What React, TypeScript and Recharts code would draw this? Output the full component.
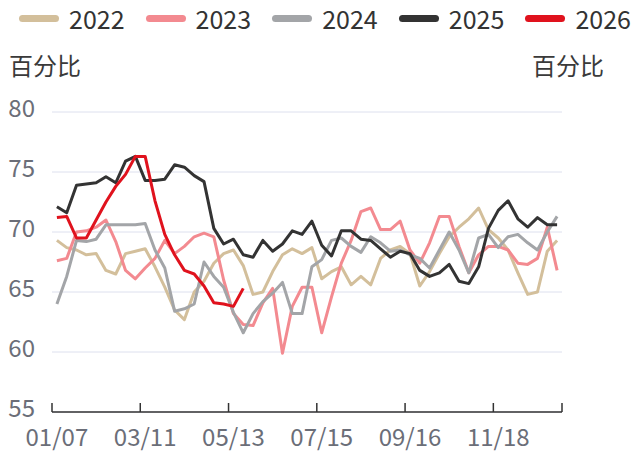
import { CartesianGrid, Legend, Line, LineChart, XAxis, YAxis } from 'recharts';

const DATES = [
  '01/07', '01/14', '01/21', '01/28', '02/04', '02/11', '02/18', '02/25',
  '03/04', '03/11', '03/18', '03/25', '04/01', '04/08', '04/15', '04/22', '04/29',
  '05/06', '05/13', '05/20', '05/27', '06/03', '06/10', '06/17', '06/24',
  '07/01', '07/08', '07/15', '07/22', '07/29', '08/05', '08/12', '08/19', '08/26',
  '09/02', '09/09', '09/16', '09/23', '09/30', '10/07', '10/14', '10/21', '10/28',
  '11/04', '11/11', '11/18', '11/25', '12/02', '12/09', '12/16', '12/23', '12/30',
];

const S2022 = [
  69.3, 68.7, 68.5, 68.1, 68.2, 66.8, 66.5, 68.2, 68.4, 68.6, 67.1, 65.4, 63.5, 62.7, 65.0, 65.9, 67.4,
  68.2, 68.5, 67.2, 64.8, 65.0, 66.7, 68.1, 68.6, 68.2, 68.7, 66.1, 66.7, 67.1, 65.6, 66.3, 65.6, 67.8,
  68.5, 68.8, 68.2, 65.5, 66.7, 68.2, 69.6, 70.4, 71.1, 72.0, 70.2, 69.5, 68.5, 66.6, 64.8, 65.0, 68.4, 69.3,
];
const S2023 = [
  67.6, 67.8, 70.0, 70.1, 70.4, 71.0, 69.2, 66.8, 66.1, 67.0, 67.8, 69.3, 68.2, 68.8, 69.6, 69.9, 69.6,
  66.0, 63.2, 62.3, 62.2, 64.1, 65.3, 59.9, 63.8, 65.4, 65.4, 61.6, 64.6, 67.4, 69.3, 71.7, 72.0, 70.2,
  70.2, 70.9, 68.5, 67.4, 69.1, 71.3, 71.3, 68.8, 66.6, 68.1, 68.8, 68.8, 68.5, 67.4, 67.3, 67.8, 70.4, 66.8,
];
const S2024 = [
  64.0, 66.3, 69.3, 69.2, 69.4, 70.6, 70.6, 70.6, 70.6, 70.7, 68.5, 67.0, 63.4, 63.6, 64.0, 67.5, 66.3,
  65.4, 63.3, 61.6, 63.2, 64.2, 64.9, 65.8, 63.2, 63.2, 67.1, 67.7, 69.3, 69.5, 68.8, 68.3, 69.6, 69.1,
  68.4, 68.5, 68.1, 67.8, 67.0, 68.5, 70.0, 68.5, 66.6, 69.5, 69.8, 68.7, 69.6, 69.8, 69.1, 68.5, 70.0, 71.3,
];
const S2025 = [
  72.1, 71.6, 73.9, 74.0, 74.1, 74.6, 74.1, 75.9, 76.3, 74.3, 74.3, 74.4, 75.6, 75.4, 74.7, 74.2, 70.3,
  69.0, 69.4, 68.1, 67.9, 69.3, 68.4, 69.0, 70.1, 69.8, 70.9, 68.9, 68.0, 70.1, 70.1, 69.4, 69.3, 68.6,
  67.9, 68.4, 68.2, 66.8, 66.3, 66.6, 67.3, 65.9, 65.7, 67.1, 70.3, 71.8, 72.6, 71.1, 70.4, 71.2, 70.6, 70.6,
];
const S2026 = [
  71.2, 71.3, 69.5, 69.5, 71.0, 72.5, 73.8, 74.8, 76.3, 76.3, 72.6, 69.8, 68.1, 66.8, 66.5, 65.5, 64.1,
  64.0, 63.8, 65.3,
];

const Y_TICKS = [55, 60, 65, 70, 75, 80];

const SERIES = [
  { key: '2022', color: '#d3bf9b', values: S2022 },
  { key: '2023', color: '#f38a90', values: S2023 },
  { key: '2024', color: '#a3a5a8', values: S2024 },
  { key: '2025', color: '#333333', values: S2025 },
  { key: '2026', color: '#e0121d', values: S2026 },
];

const W = 633;
const H = 453;
const LEFT_W = 52;
const RIGHT_W = 71;
const PLOT_W = W - LEFT_W - RIGHT_W;
const FONT = '"Noto Sans CJK SC", "Noto Sans", sans-serif';
const AXIS_LINE = '#333333';
const LABEL = '#6b6e78';
const GRID = '#dde0ee';

const rows = DATES.map((date, i) => {
  const row: Record<string, string | number | undefined> = { idx: i, date };
  SERIES.forEach((s) => {
    row[s.key] = s.values[i];
  });
  return row;
});
const ALL_IDX = DATES.map((_, i) => i);

function XTick({ x, y, payload }: any) {
  const i = payload.value as number;
  const half = PLOT_W / DATES.length / 2;
  const labelled = i % 9 === 0;
  return (
    <g>
      {labelled && (
        <line x1={x - half} x2={x - half} y1={y} y2={y - 9} stroke={AXIS_LINE} strokeWidth={1.5} />
      )}
      {i === DATES.length - 1 && (
        <line x1={x + half} x2={x + half} y1={y} y2={y - 9} stroke={AXIS_LINE} strokeWidth={1.5} />
      )}
      {labelled && (
        <text x={x} y={y} dy={34} textAnchor="middle" fill={LABEL} fontSize={24} fontFamily={FONT}>
          {DATES[i]}
        </text>
      )}
    </g>
  );
}

function YTick({ x, y, payload, anchor }: any) {
  return (
    <text x={x} y={y} dy={5} textAnchor={anchor} fill={LABEL} fontSize={24} fontFamily={FONT}>
      {payload.value}
    </text>
  );
}

function LegendBar() {
  return (
    <div style={{ display: 'flex', paddingLeft: 19, width: W, boxSizing: 'border-box', fontFamily: FONT }}>
      {SERIES.map((s) => (
        <div key={s.key} style={{ width: 126.6, display: 'flex', alignItems: 'center', flexShrink: 0 }}>
          <span style={{ width: 40, height: 7, borderRadius: 4, background: s.color, marginRight: 10 }} />
          <span style={{ fontSize: 25, color: '#333', lineHeight: '36px' }}>{s.key}</span>
        </div>
      ))}
    </div>
  );
}

const unitStyle = {
  position: 'absolute' as const,
  top: 52,
  fontSize: 24,
  lineHeight: '26px',
  color: '#3a3a3a',
  fontFamily: FONT,
};

export default function App() {
  return (
    <div style={{ position: 'absolute', left: 0, top: 0, width: W, height: H, background: '#fff' }}>
      <LineChart width={W} height={H} data={rows} margin={{ top: 112, right: 0, bottom: 0, left: 0 }}>
        <CartesianGrid yAxisId="left" vertical={false} stroke={GRID} strokeWidth={1} />
        <XAxis
          type="number"
          dataKey="idx"
          domain={[-0.5, DATES.length - 0.5]}
          ticks={ALL_IDX}
          interval={0}
          height={41}
          tickSize={0}
          tickMargin={0}
          tickLine={false}
          axisLine={{ stroke: AXIS_LINE, strokeWidth: 1.5 }}
          tick={<XTick />}
        />
        <YAxis
          yAxisId="left"
          domain={[55, 80]}
          ticks={Y_TICKS}
          width={LEFT_W}
          axisLine={false}
          tickLine={false}
          tickSize={0}
          tickMargin={17}
          tick={<YTick anchor="end" />}
        />
        <YAxis
          yAxisId="right"
          orientation="right"
          domain={[55, 80]}
          ticks={Y_TICKS}
          width={RIGHT_W}
          axisLine={false}
          tickLine={false}
          tickSize={0}
          tickMargin={16}
          tick={<YTick anchor="start" />}
        />
        <Legend
          verticalAlign="middle"
          align="center"
          content={<LegendBar />}
          wrapperStyle={{ top: 0, left: 0, width: W, margin: 0 }}
        />
        {SERIES.map((s) => (
          <Line
            key={s.key}
            yAxisId="left"
            dataKey={s.key}
            stroke={s.color}
            strokeWidth={3}
            dot={false}
            activeDot={false}
            isAnimationActive={false}
            strokeLinejoin="round"
          />
        ))}
      </LineChart>
      <div style={{ ...unitStyle, left: 9 }}>百分比</div>
      <div style={{ ...unitStyle, left: 532 }}>百分比</div>
    </div>
  );
}
